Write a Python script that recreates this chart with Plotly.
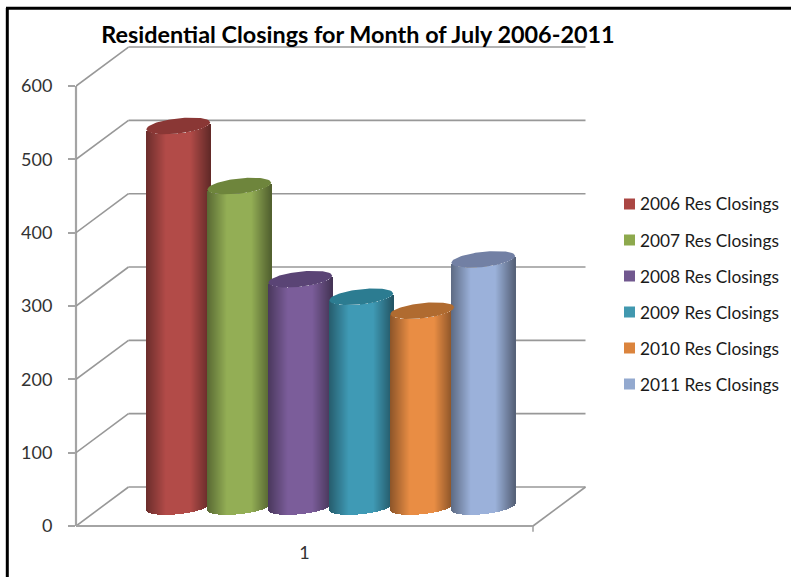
import plotly.graph_objects as go

# Residential closings for July of each year
series_names = ["2006 Res Closings", "2007 Res Closings", "2008 Res Closings",
                "2009 Res Closings", "2010 Res Closings", "2011 Res Closings"]
closings = [519, 437, 310, 286, 267, 337]
value_ticks = [0, 100, 200, 300, 400, 500, 600]
category_labels = ["1"]

side_colors = ["#B24B48", "#93AE55", "#7B5D9A", "#3F9AB5", "#E98D44", "#9BB1DA"]
cap_colors = ["#8A3735", "#6E853C", "#5A4475", "#2C7C91", "#B06B30", "#7280A4"]
swatch_colors = ["#AA4643", "#8DA94D", "#71588F", "#4198AF", "#DB843D", "#93A9CF"]

W, H = 791, 577
LEFT, RIGHT, TOP, BOTTOM = 76, 586, 44, 534   # plot area in page pixels
X_PX = 457.0          # page pixels per x unit
Y_PX = 0.7333         # page pixels per value unit
DEPTH_X = 52.5 / X_PX # shift of the back wall
DEPTH_Y = 39 / Y_PX
GRID = "#989898"


def page_x(px):
    return (px - LEFT) / (RIGHT - LEFT)


def page_y(py):
    return 1 - (py - TOP) / (BOTTOM - TOP)


def seg(x0, y0, x1, y1, color=GRID, width=1.6, xref="x", yref="y"):
    return dict(type="line", x0=x0, y0=y0, x1=x1, y1=y1, xref=xref, yref=yref,
                layer="below", line=dict(color=color, width=width))


def scaled(color, f):
    r, g, b = (int(color[i:i + 2], 16) for i in (1, 3, 5))
    return f"rgb({r * f:.0f},{g * f:.0f},{b * f:.0f})"


def brightness(u):
    # Cylinder shading: flat highlight in the middle, dark toward the edges
    edge = 0.60 if u < 0 else 0.55
    return min(1.0, edge + (1 - edge) * (1 - abs(u)) / 0.62)


# Cylinder geometry, sitting half way back on the floor
SLOT = 61 / X_PX
RX = 32 / X_PX
RY = 7.6 / Y_PX
TILT = 3.4 / Y_PX
STEPS = 64


def lower_edge(u):
    return TILT * u - RY * (1 - u * u) ** 0.5


def upper_edge(u):
    return TILT * u + RY * (1 - u * u) ** 0.5


fig = go.Figure()
first = 0.5 - 2.5 * SLOT + DEPTH_X / 2
for i, (name, value) in enumerate(zip(series_names, closings)):
    cx = first + i * SLOT
    us = [(k + 0.5) / STEPS * 2 - 1 for k in range(STEPS)]
    fig.add_trace(go.Bar(
        name=name,
        x=[cx + u * RX for u in us],
        base=[DEPTH_Y / 2 + lower_edge(u) for u in us],
        y=[value] * STEPS,
        width=[2 * RX / STEPS * 1.15] * STEPS,
        marker=dict(color=[scaled(side_colors[i], brightness(u)) for u in us],
                    line=dict(width=0)),
        showlegend=False,
        hoverinfo="skip",
    ))

for i, value in enumerate(closings):
    cx = first + i * SLOT
    steps = [k / 40 * 2 - 1 for k in range(41)]
    outline = steps + steps[::-1]
    edge = [upper_edge(u) for u in steps] + [lower_edge(u) for u in steps[::-1]]
    fig.add_trace(go.Scatter(
        x=[cx + u * RX for u in outline],
        y=[value + DEPTH_Y / 2 + e for e in edge],
        mode="lines", fill="toself", fillcolor=cap_colors[i],
        line=dict(width=0), showlegend=False, hoverinfo="skip",
    ))

# Walls and floor of the chart box
shapes = []
for v in value_ticks:
    shapes.append(seg(0, v, DEPTH_X, v + DEPTH_Y))
    shapes.append(seg(DEPTH_X, v + DEPTH_Y, 1 + DEPTH_X, v + DEPTH_Y))
shapes.append(seg(1, 0, 1 + DEPTH_X, DEPTH_Y))
shapes.append(seg(0, 0, 1, 0, color="#A4A4A4", width=2.2))
shapes.append(seg(0, 0, 0, 600, color="#A4A4A4", width=2.2, xref="paper"))
shapes.append(seg(page_x(533), 0, page_x(533), -8, color="#A4A4A4", width=1.6, xref="paper"))

# Page frame along the top and left
shapes.append(seg(page_x(7.3), page_y(8), page_x(7.3), page_y(577),
                  color="black", width=3, xref="paper", yref="paper"))
shapes.append(seg(page_x(6), page_y(8.3), page_x(791), page_y(8.3),
                  color="black", width=3, xref="paper", yref="paper"))

# Legend column
annotations = []
for i, name in enumerate(series_names):
    row = 204 + 36 * i
    shapes.append(dict(type="rect", xref="paper", yref="paper",
                       x0=page_x(624), x1=page_x(635),
                       y0=page_y(row + 5.5), y1=page_y(row - 5.5),
                       fillcolor=swatch_colors[i], line=dict(width=0)))
    annotations.append(dict(text=name, xref="paper", yref="paper",
                            x=page_x(638), y=page_y(row), xanchor="left",
                            yanchor="middle", showarrow=False,
                            font=dict(family="Lato", size=17.3, color="#1a1a1a")))

fig.update_layout(
    width=W, height=H, autosize=False,
    margin=dict(l=LEFT, r=W - RIGHT, t=TOP, b=H - BOTTOM, pad=0),
    paper_bgcolor="white", plot_bgcolor="white",
    barmode="overlay", bargap=0, showlegend=False,
    title=dict(text="<b>Residential Closings for Month of July 2006-2011</b>",
               x=358 / W, xanchor="center", xref="container",
               y=1 - 35 / H, yanchor="middle",
               font=dict(family="Lato", size=23.4, color="black")),
    xaxis=dict(range=[0, (RIGHT - LEFT) / X_PX], showgrid=False, zeroline=False,
               showline=False, ticks="", tickmode="array", tickvals=[0.5],
               ticktext=category_labels, ticklabelstandoff=6,
               tickfont=dict(family="Lato", size=18, color="#333333")),
    yaxis=dict(range=[-(BOTTOM - 526) / Y_PX, (526 - TOP) / Y_PX],
               showgrid=False, zeroline=False, showline=False,
               tickmode="array", tickvals=value_ticks, ticks="outside",
               ticklen=7, tickwidth=1.6, tickcolor="#A4A4A4", ticklabelstandoff=12,
               tickfont=dict(family="Lato", size=18, color="#333333")),
    shapes=shapes, annotations=annotations,
)

fig.write_html("out.html")
